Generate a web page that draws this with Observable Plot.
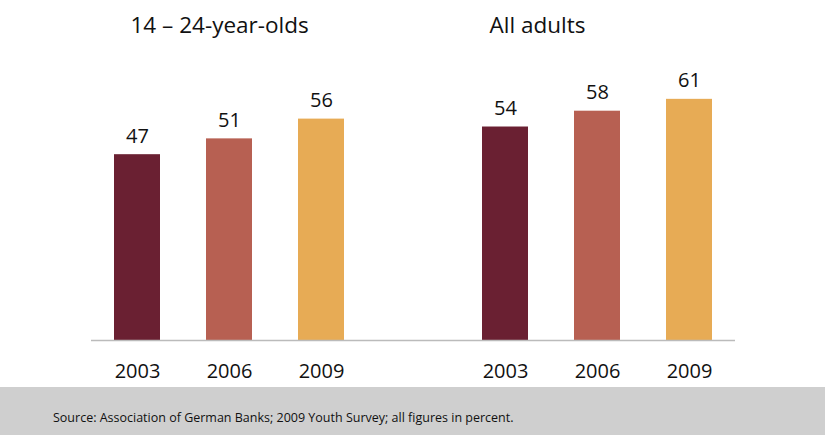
<!DOCTYPE html>
<html>
<head>
<meta charset="utf-8">
<script src="https://cdn.jsdelivr.net/npm/d3@7"></script>
<script src="https://cdn.jsdelivr.net/npm/@observablehq/plot@0.6"></script>
<style>
  html, body { margin: 0; padding: 0; background: #fff; }
  #chart svg { display: block; }
  #source { width: 825px; height: 48px; background: #cfcfcf; box-sizing: border-box;
    padding-left: 53px; padding-top: 25px; font: 12.5px "Open Sans", sans-serif; color: #111; line-height: 11px; }
</style>
</head>
<body>
<div id="chart"></div>
<div id="source">Source: Association of German Banks; 2009 Youth Survey; all figures in percent.</div>
<script>
const groups = ["14 – 24-year-olds", "All adults"];
const years = ["2003", "2006", "2009"];
const youthValues = [47, 51, 56];
const adultValues = [54, 58, 61];
const colors = ["#6a2032", "#b76052", "#e7ab55"];

const seriesByGroup = [youthValues, adultValues];
const data = [];
groups.forEach((g, gi) => {
  years.forEach((y, yi) => {
    data.push({group: g, year: y, key: g + "|" + y, value: seriesByGroup[gi][yi]});
  });
});
const domain = [
  ...years.map(y => groups[0] + "|" + y),
  "gap",
  ...years.map(y => groups[1] + "|" + y)
];

const font = "'Open Sans', sans-serif";
const chart = Plot.plot({
  width: 825,
  height: 387,
  marginLeft: 91,
  marginRight: 90,
  marginTop: 0,
  marginBottom: 47,
  style: {fontFamily: font, color: "#111", background: "#fff"},
  x: {domain, paddingInner: 0.5, paddingOuter: 0.25, axis: null},
  y: {domain: [0, 86], axis: null},
  color: {domain: years, range: colors},
  marks: [
    Plot.barY(data, {x: "key", y: "value", fill: "year"}),
    Plot.ruleY([0], {stroke: "#bbbbbb", strokeWidth: 1.5}),
    Plot.text(data, {x: "key", y: "value", text: d => String(d.value), dy: -12, lineAnchor: "bottom", fontSize: 20, fill: "#111"}),
    Plot.text(data, {x: "key", text: "year", frameAnchor: "bottom", lineAnchor: "top", dy: 23, fontSize: 20, fill: "#111"}),
    Plot.text([groups[0]], {x: [domain[0]], text: d => d, frameAnchor: "top", lineAnchor: "top", textAnchor: "start", dx: -7, dy: 17, fontSize: 22.5, fill: "#111"}),
    Plot.text([groups[1]], {x: [domain[4]], text: d => d, frameAnchor: "top", lineAnchor: "top", textAnchor: "start", dx: -16, dy: 17, fontSize: 22.5, fill: "#111"})
  ]
});
document.getElementById("chart").appendChild(chart);
</script>
</body>
</html>
